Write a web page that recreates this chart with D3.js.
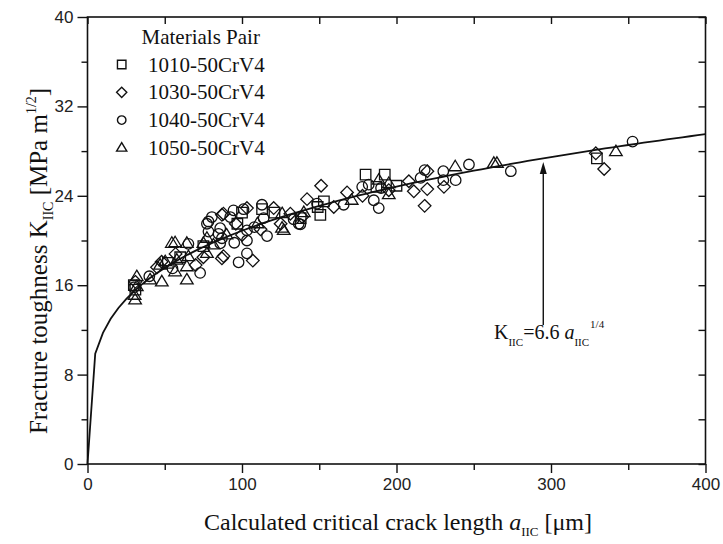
<!DOCTYPE html>
<html>
<head>
<meta charset="utf-8">
<script src="https://cdn.jsdelivr.net/npm/d3@7"></script>
<style>
body{margin:0;background:#fff;}
svg{display:block;}
</style>
</head>
<body>
<div id="chart"></div>
<script>
//values: [crack length a_IIC (um), K_IIC (MPa m^1/2)]
var pair1010 = [[30,16.0],[31,15.6],[52,18.0],[60,18.5],[75,19.5],[97,21.5],[100,22.5],[113,22.8],[121,22.5],[138,22.0],
	[149,23.0],[150.7,22.3],[153,23.5],[180,25.9],[187,24.8],[192.4,25.9],[200,24.9],[329.7,27.35]];
var pair1030 = [[31,16.3],[45,17.6],[48,18.1],[57,18.8],[70,17.8],[75,18.5],[87,18.4],[88,18.6],[87,22.3],[88,22.4],
	[96,21.5],[100,20.5],[103.2,22.9],[107,18.2],[112,21.0],[120.5,22.9],[125,21.5],[131.3,22.4],[138.9,22.1],[142.1,23.7],
	[151.2,24.9],[159.4,23.0],[168,24.3],[178,24.0],[195,24.5],[208,25.3],[211.2,24.4],[218.2,23.1],[219.9,24.6],[220,26.2],
	[230.7,24.8],[329,27.8],[334.4,26.4]];
var pair1040 = [[30,15.8],[40,16.8],[55,17.5],[65.3,19.7],[72.9,17.1],[77.3,21.5],[78.3,20.8],[78.3,21.7],[80.5,22.1],[84.8,20.6],
	[85.9,21.1],[85.9,19.75],[87,20.2],[92.4,22.1],[94.5,22.7],[95,19.8],[97.8,18.05],[101,22.8],[103.2,18.85],[103.2,20.0],
	[103.2,20.9],[108,21.2],[112.9,23.2],[114,22.0],[116.2,20.4],[133.4,21.9],[136.7,21.5],[137.8,21.45],[148.6,23.3],[165.8,23.2],
	[177.8,24.8],[182,25.0],[185.3,23.6],[188.5,22.9],[190,24.7],[215.6,25.6],[218.2,26.3],[230.3,26.2],[230.3,25.4],[238.3,25.4],
	[246.9,26.8],[274,26.2],[352.8,28.85]];
var pair1050 = [[31.9,16.76],[31.9,15.87],[30.8,14.68],[30.5,15.1],[40.5,16.47],[47,17.8],[48.1,16.3],[50.3,18.1],[54.6,19.75],[56.7,17.2],
	[57.8,18.25],[56.7,19.8],[64.3,19.75],[64.3,17.65],[64.3,16.47],[65.3,18.55],[75,19.75],[77.3,20.2],[77.3,18.85],[81.5,19.6],
	[90,20.5],[110,21.5],[125.9,21.1],[126,22.4],[127,20.9],[140,22.5],[171,23.6],[188.5,25.4],[195,25.1],[195,24.1],
	[238,26.6],[263,26.9],[265,26.9],[342,27.95]];

var seriesNames = ["1010-50CrV4","1030-50CrV4","1040-50CrV4","1050-50CrV4"];
var seriesSymbols = ["square","diamond","circle","triangle"];
var seriesData = [pair1010, pair1030, pair1040, pair1050];

var xMajor = [0,100,200,300,400];
var xMinor = [50,150,250,350];
var yMajor = [0,8,16,24,32,40];
var yMinor = [4,12,20,28,36];

//fit K = 6.6 a^(1/4), sampled every 5 um
var fitCoef = 6.6, fitExp = 0.25, fitStep = 5;

var W = 723, H = 544;
var m = {left:87.5, right:17.5, top:17, bottom:80};

var svg = d3.select("#chart").append("svg").attr("width",W).attr("height",H);

var x = d3.scaleLinear().domain([0,400]).range([m.left, W-m.right]);
var y = d3.scaleLinear().domain([0,40]).range([H-m.bottom, m.top]);

//axes -- outward ticks on left/bottom, inward ticks on top/right
function styleAxis(g){
	g.select(".domain").remove();
	g.selectAll(".tick line").attr("stroke","#111").attr("stroke-width",1.4);
	g.selectAll(".tick text").attr("font-family","'Liberation Sans', Arial, sans-serif").attr("font-size","17px").attr("fill","#222");
}

var axBottom = svg.append("g").attr("transform","translate(0,"+y(0)+")")
	.call(d3.axisBottom(x).tickValues(xMajor).tickSize(9).tickPadding(5).tickFormat(d3.format("d")));
styleAxis(axBottom);
var axBottomMinor = svg.append("g").attr("transform","translate(0,"+y(0)+")")
	.call(d3.axisBottom(x).tickValues(xMinor).tickSize(6).tickFormat(""));
styleAxis(axBottomMinor);

var axLeft = svg.append("g").attr("transform","translate("+x(0)+",0)")
	.call(d3.axisLeft(y).tickValues(yMajor).tickSize(10).tickPadding(4).tickFormat(d3.format("d")));
styleAxis(axLeft);
var axLeftMinor = svg.append("g").attr("transform","translate("+x(0)+",0)")
	.call(d3.axisLeft(y).tickValues(yMinor).tickSize(6).tickFormat(""));
styleAxis(axLeftMinor);

var axTop = svg.append("g").attr("transform","translate(0,"+y(40)+")")
	.call(d3.axisBottom(x).tickValues(xMajor.concat(xMinor)).tickSize(7).tickFormat(""));
styleAxis(axTop);

var axRight = svg.append("g").attr("transform","translate("+x(400)+",0)")
	.call(d3.axisLeft(y).tickValues(yMajor.concat(yMinor)).tickSize(7).tickFormat(""));
styleAxis(axRight);

//frame
svg.append("rect").attr("x",x(0)).attr("y",y(40)).attr("width",x(400)-x(0)).attr("height",y(0)-y(40))
	.attr("fill","none").attr("stroke","#111").attr("stroke-width",1.6);

//fit curve
var fitPts = d3.range(0, 400+fitStep, fitStep).map(function(a){return [a, fitCoef*Math.pow(a, fitExp)]});
var line = d3.line().x(function(d){return x(d[0])}).y(function(d){return y(d[1])});
svg.append("path").datum(fitPts).attr("d", line).attr("fill","none").attr("stroke","#111").attr("stroke-width",1.8);

//symbols
function symbolPath(type, s){
	if(type=="square") return "M"+(-s/2)+","+(-s/2)+"h"+s+"v"+s+"h"+(-s)+"Z";
	if(type=="diamond"){var d=s*0.6; return "M0,"+(-d)+"L"+d+",0L0,"+d+"L"+(-d)+",0Z";}
	if(type=="circle"){var r=s/2; return "M"+r+",0A"+r+","+r+" 0 1,1 "+(-r)+",0A"+r+","+r+" 0 1,1 "+r+",0Z";}
	if(type=="triangle"){var h=s*1.0, w=s*0.6; return "M0,"+(-h*0.62)+"L"+w+","+(h*0.38)+"L"+(-w)+","+(h*0.38)+"Z";}
}

var layer = svg.append("g");
seriesData.forEach(function(data, i){
	layer.selectAll("path.s"+i).data(data).enter().append("path").classed("s"+i,true)
		.attr("d", symbolPath(seriesSymbols[i], 10.5))
		.attr("transform", function(d){return "translate("+x(d[0])+","+y(d[1])+")"})
		.attr("fill","none").attr("stroke","#111").attr("stroke-width",1.3);
});

//legend
var serif = "'Liberation Serif', 'Times New Roman', serif";
var leg = svg.append("g");
leg.append("text").attr("x",141.5).attr("y",44).attr("font-family",serif).attr("font-size","21px").attr("fill","#111").text("Materials Pair");
seriesNames.forEach(function(n, i){
	var cy = 64.5 + i*27.8;
	leg.append("path").attr("d", symbolPath(seriesSymbols[i], 8.5)).attr("transform","translate(121.7,"+cy+")")
		.attr("fill","none").attr("stroke","#111").attr("stroke-width",1.4);
	leg.append("text").attr("x",148).attr("y",cy+7).attr("font-family",serif).attr("font-size","21px").attr("fill","#111").text(n);
});

//arrow + fit label
var arrowX = x(295);
svg.append("line").attr("x1",arrowX).attr("x2",arrowX).attr("y1",325).attr("y2",172)
	.attr("stroke","#111").attr("stroke-width",1.4);
svg.append("path").attr("d","M"+arrowX+",162L"+(arrowX+3.5)+",174L"+(arrowX-3.5)+",174Z").attr("fill","#111");

var lab = svg.append("text").attr("x",494).attr("y",339).attr("font-family",serif).attr("font-size","20px").attr("fill","#111");
lab.append("tspan").text("K");
lab.append("tspan").attr("font-size","11px").attr("dy",7).text("IIC");
lab.append("tspan").attr("dy",-7).text("=6.6 ");
lab.append("tspan").attr("font-style","italic").text("a");
lab.append("tspan").attr("font-size","11px").attr("dy",7).text("IIC");
lab.append("tspan").attr("font-size","11px").attr("dy",-18).attr("dx",1).text("1/4");

//axis titles
var xt = svg.append("text").attr("x",398).attr("y",530).attr("text-anchor","middle")
	.attr("font-family",serif).attr("font-size","24px").attr("fill","#111");
xt.append("tspan").text("Calculated critical crack length ");
xt.append("tspan").attr("font-style","italic").text("a");
xt.append("tspan").attr("font-size","13px").attr("dy",6).text("IIC");
xt.append("tspan").attr("dy",-6).text("  [\u03bcm]");

var yt = svg.append("text").attr("transform","translate(47,261) rotate(-90)").attr("text-anchor","middle")
	.attr("font-family",serif).attr("font-size","25px").attr("fill","#111");
yt.append("tspan").text("Fracture toughness K");
yt.append("tspan").attr("font-size","14px").attr("dy",6).text("IIC");
yt.append("tspan").attr("dy",-6).text("   [MPa m");
yt.append("tspan").attr("font-size","14px").attr("dy",-11).text("1/2");
yt.append("tspan").attr("dy",11).text("]");
</script>
</body>
</html>
